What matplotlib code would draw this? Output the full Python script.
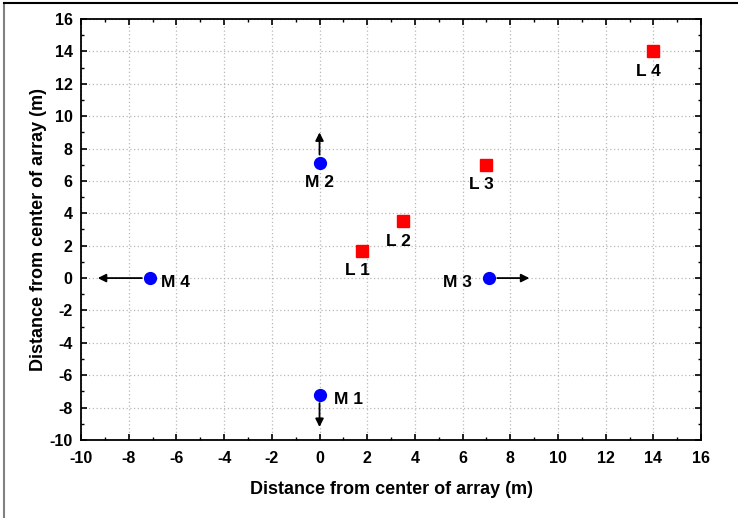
import matplotlib
matplotlib.use("Agg")
import matplotlib.pyplot as plt
from matplotlib.ticker import MultipleLocator
from matplotlib.lines import Line2D

plt.rcParams['font.family'] = ['Liberation Sans', 'DejaVu Sans']
plt.rcParams['axes.unicode_minus'] = False

# Microphones (blue circles)
mic_labels = ["M 1", "M 2", "M 3", "M 4"]
mic_x = [0.0, 0.0, 7.1, -7.1]
mic_y = [-7.2, 7.1, 0.0, 0.0]
# Arrow tips for microphones
arrow_x = [0.0, 0.0, 8.8, -9.3]
arrow_y = [-9.2, 9.0, 0.0, 0.0]

# Loudspeakers (red squares)
ls_labels = ["L 1", "L 2", "L 3", "L 4"]
ls_x = [1.8, 3.5, 7.0, 14.0]
ls_y = [1.7, 3.5, 7.0, 14.0]

fig = plt.figure(figsize=(7.38, 5.18), dpi=100)
ax = fig.add_axes([0.1098, 0.1506, 0.8402, 0.8127])

ax.set_xlim(-10, 16)
ax.set_ylim(-10, 16)
ax.xaxis.set_major_locator(MultipleLocator(2))
ax.yaxis.set_major_locator(MultipleLocator(2))
ax.xaxis.set_minor_locator(MultipleLocator(1))
ax.yaxis.set_minor_locator(MultipleLocator(1))
ax.grid(True, which='major', color='#b8b8b8', linestyle=(0, (1, 2)), linewidth=0.9)
ax.set_axisbelow(True)
ax.tick_params(which='both', direction='in', top=True, right=True)
ax.tick_params(which='major', length=4, width=1.2, labelsize=11.5)
ax.tick_params(axis='x', which='major', pad=8)
ax.tick_params(axis='y', which='major', pad=6)
ax.tick_params(which='minor', length=2.5, width=1)
for lbl in ax.get_xticklabels() + ax.get_yticklabels():
    lbl.set_fontweight('bold')
for s in ax.spines.values():
    s.set_linewidth(1.3)

# arrows
for mx, my, ax_, ay_ in zip(mic_x, mic_y, arrow_x, arrow_y):
    dx, dy = ax_ - mx, ay_ - my
    n = (dx**2 + dy**2) ** 0.5
    sx, sy = mx + 0.35 * dx / n, my + 0.35 * dy / n * (24/16)
    ax.annotate('', xy=(ax_, ay_), xytext=(sx, sy),
                arrowprops=dict(arrowstyle='-|>', color='black', lw=1.3,
                                mutation_scale=12, shrinkA=0, shrinkB=0))

ax.plot(mic_x, mic_y, 'o', color='#0000ff', markersize=8.5, zorder=5)
ax.plot(ls_x, ls_y, 's', color='#ff0000', markersize=8.5, zorder=5)

mic_offsets = [(0.6, -0.3), (0.0, -1.2), (-1.3, -0.3), (0.45, -0.3)]
mic_ha = ['left', 'center', 'center', 'left']
for lab, x, y, off, ha in zip(mic_labels, mic_x, mic_y, mic_offsets, mic_ha):
    ax.text(x + off[0], y + off[1], lab, ha=ha, va='center', fontsize=12.5,
            fontweight='bold', zorder=6)
for lab, x, y in zip(ls_labels, ls_x, ls_y):
    ax.text(x - 0.2, y - 1.25, lab, ha='center', va='center', fontsize=12.5,
            fontweight='bold', zorder=6)

ax.set_xlabel('Distance from center of array (m)', fontsize=13, fontweight='bold', labelpad=11)
ax.set_ylabel('Distance from center of array (m)', fontsize=13, fontweight='bold', labelpad=2)

# outer frame lines
fig.add_artist(Line2D([4/738, 4/738], [0, 1 - 3/518], transform=fig.transFigure,
                      color='#808080', lw=1.5))
fig.add_artist(Line2D([4/738, 737/738], [1 - 3/518, 1 - 3/518], transform=fig.transFigure,
                      color='black', lw=1.5))

fig.savefig('out.png', dpi=100)
